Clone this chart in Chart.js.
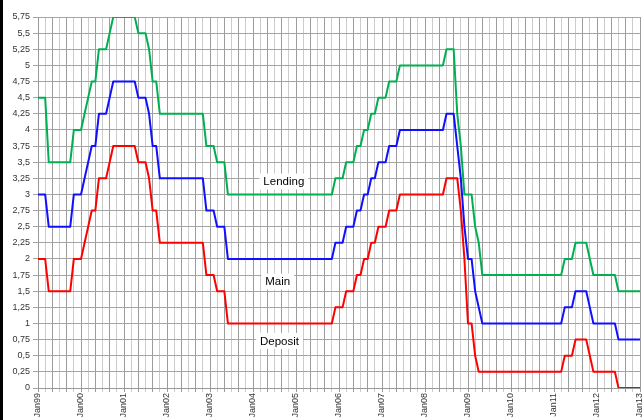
<!DOCTYPE html>
<html>
<head>
<meta charset="utf-8">
<script src="https://cdn.jsdelivr.net/npm/chart.js@4/dist/chart.umd.min.js"></script>
<style>
html,body{margin:0;padding:0;background:#fff;}
#wrap{width:644px;height:420px;}
</style>
</head>
<body>
<div id="wrap"><canvas id="c" width="644" height="420"></canvas></div>
<script>
// ---- data (monthly, Jan 1999 .. Jan 2013) ----
const monthNames = ['Jan','Feb','Mar','Apr','May','Jun','Jul','Aug','Sep','Oct','Nov','Dec'];
const tickLabels = ['Jan99','Jan00','Jan01','Jan02','Jan03','Jan04','Jan05','Jan06','Jan07','Jan08','Jan09','Jan10','Jan11','Jan12','Jan13'];
const yTickValues = [0,0.25,0.5,0.75,1,1.25,1.5,1.75,2,2.25,2.5,2.75,3,3.25,3.5,3.75,4,4.25,4.5,4.75,5,5.25,5.5,5.75];

const lending = [
  4.5,4.5,4.5,3.5,3.5,3.5,3.5,3.5,3.5,3.5,4.0,4.0,            // 1999
  4.0,4.25,4.5,4.75,4.75,5.25,5.25,5.25,5.5,5.75,5.75,5.75,   // 2000
  5.75,5.75,5.75,5.75,5.5,5.5,5.5,5.25,4.75,4.75,4.25,4.25,   // 2001
  4.25,4.25,4.25,4.25,4.25,4.25,4.25,4.25,4.25,4.25,4.25,3.75,// 2002
  3.75,3.75,3.5,3.5,3.5,3.0,3.0,3.0,3.0,3.0,3.0,3.0,          // 2003
  3.0,3.0,3.0,3.0,3.0,3.0,3.0,3.0,3.0,3.0,3.0,3.0,            // 2004
  3.0,3.0,3.0,3.0,3.0,3.0,3.0,3.0,3.0,3.0,3.0,3.25,           // 2005
  3.25,3.25,3.5,3.5,3.5,3.75,3.75,4.0,4.0,4.25,4.25,4.5,      // 2006
  4.5,4.5,4.75,4.75,4.75,5.0,5.0,5.0,5.0,5.0,5.0,5.0,         // 2007
  5.0,5.0,5.0,5.0,5.0,5.0,5.25,5.25,5.25,4.25,3.75,3.0,       // 2008
  3.0,3.0,2.5,2.25,1.75,1.75,1.75,1.75,1.75,1.75,1.75,1.75,   // 2009
  1.75,1.75,1.75,1.75,1.75,1.75,1.75,1.75,1.75,1.75,1.75,1.75,// 2010
  1.75,1.75,1.75,2.0,2.0,2.0,2.25,2.25,2.25,2.25,2.0,1.75,    // 2011
  1.75,1.75,1.75,1.75,1.75,1.75,1.5,1.5,1.5,1.5,1.5,1.5,      // 2012
  1.5                                                          // Jan 2013
];
const main = [
  3.0,3.0,3.0,2.5,2.5,2.5,2.5,2.5,2.5,2.5,3.0,3.0,
  3.0,3.25,3.5,3.75,3.75,4.25,4.25,4.25,4.5,4.75,4.75,4.75,
  4.75,4.75,4.75,4.75,4.5,4.5,4.5,4.25,3.75,3.75,3.25,3.25,
  3.25,3.25,3.25,3.25,3.25,3.25,3.25,3.25,3.25,3.25,3.25,2.75,
  2.75,2.75,2.5,2.5,2.5,2.0,2.0,2.0,2.0,2.0,2.0,2.0,
  2.0,2.0,2.0,2.0,2.0,2.0,2.0,2.0,2.0,2.0,2.0,2.0,
  2.0,2.0,2.0,2.0,2.0,2.0,2.0,2.0,2.0,2.0,2.0,2.25,
  2.25,2.25,2.5,2.5,2.5,2.75,2.75,3.0,3.0,3.25,3.25,3.5,
  3.5,3.5,3.75,3.75,3.75,4.0,4.0,4.0,4.0,4.0,4.0,4.0,
  4.0,4.0,4.0,4.0,4.0,4.0,4.25,4.25,4.25,3.75,3.25,2.5,
  2.0,2.0,1.5,1.25,1.0,1.0,1.0,1.0,1.0,1.0,1.0,1.0,
  1.0,1.0,1.0,1.0,1.0,1.0,1.0,1.0,1.0,1.0,1.0,1.0,
  1.0,1.0,1.0,1.25,1.25,1.25,1.5,1.5,1.5,1.5,1.25,1.0,
  1.0,1.0,1.0,1.0,1.0,1.0,0.75,0.75,0.75,0.75,0.75,0.75,
  0.75
];
const deposit = [
  2.0,2.0,2.0,1.5,1.5,1.5,1.5,1.5,1.5,1.5,2.0,2.0,
  2.0,2.25,2.5,2.75,2.75,3.25,3.25,3.25,3.5,3.75,3.75,3.75,
  3.75,3.75,3.75,3.75,3.5,3.5,3.5,3.25,2.75,2.75,2.25,2.25,
  2.25,2.25,2.25,2.25,2.25,2.25,2.25,2.25,2.25,2.25,2.25,1.75,
  1.75,1.75,1.5,1.5,1.5,1.0,1.0,1.0,1.0,1.0,1.0,1.0,
  1.0,1.0,1.0,1.0,1.0,1.0,1.0,1.0,1.0,1.0,1.0,1.0,
  1.0,1.0,1.0,1.0,1.0,1.0,1.0,1.0,1.0,1.0,1.0,1.25,
  1.25,1.25,1.5,1.5,1.5,1.75,1.75,2.0,2.0,2.25,2.25,2.5,
  2.5,2.5,2.75,2.75,2.75,3.0,3.0,3.0,3.0,3.0,3.0,3.0,
  3.0,3.0,3.0,3.0,3.0,3.0,3.25,3.25,3.25,3.25,2.75,2.0,
  1.0,1.0,0.5,0.25,0.25,0.25,0.25,0.25,0.25,0.25,0.25,0.25,
  0.25,0.25,0.25,0.25,0.25,0.25,0.25,0.25,0.25,0.25,0.25,0.25,
  0.25,0.25,0.25,0.5,0.5,0.5,0.75,0.75,0.75,0.75,0.5,0.25,
  0.25,0.25,0.25,0.25,0.25,0.25,0,0,0,0,0,0,
  0
];

// month categories Jan99 .. Jan13
const categories = [];
for (let y = 1999; y <= 2013; y++) {
  for (let m = 0; m < 12; m++) {
    if (y === 2013 && m > 0) break;
    categories.push(monthNames[m] + String(y).slice(2));
  }
}

// in-chart series labels
const seriesLabels = [
  {text: 'Lending', month: 68.6, value: 3.2},
  {text: 'Main',    month: 66.9, value: 1.65},
  {text: 'Deposit', month: 67.4, value: 0.73}
];

const FONT = "'Liberation Sans', Arial, sans-serif";
Chart.defaults.font.family = FONT;

const labelPlugin = {
  id: 'seriesLabels',
  afterDatasetsDraw(chart) {
    const ctx = chart.ctx, xs = chart.scales.x, ys = chart.scales.y;
    ctx.save();
    ctx.font = "11.5px " + FONT;
    ctx.textAlign = 'center';
    ctx.textBaseline = 'middle';
    seriesLabels.forEach(l => {
      const px = xs.getPixelForValue(l.month);
      const py = ys.getPixelForValue(l.value);
      const w = ctx.measureText(l.text).width + 8;
      ctx.fillStyle = '#fff';
      ctx.fillRect(px - w / 2, py - 8, w, 16);
      ctx.fillStyle = '#000';
      ctx.fillText(l.text, px, py + 0.5);
    });
    ctx.restore();
  }
};
const borderPlugin = {
  id: 'leftBar',
  afterDraw(chart) {
    const ctx = chart.ctx;
    ctx.save();
    ctx.fillStyle = '#000';
    ctx.fillRect(0, 0, 3, chart.height);
    ctx.restore();
  }
};

new Chart(document.getElementById('c'), {
  type: 'line',
  data: {
    labels: categories,
    datasets: [
      {label: 'Lending', data: lending, borderColor: '#00b050', borderWidth: 2},
      {label: 'Main', data: main, borderColor: '#1010ff', borderWidth: 2},
      {label: 'Deposit', data: deposit, borderColor: '#ff0000', borderWidth: 2}
    ]
  },
  options: {
    responsive: false,
    animation: false,
    events: [],
    layout: {padding: {left: 0, right: 4, top: 17, bottom: 0}},
    elements: {point: {radius: 0}, line: {tension: 0, borderJoinStyle: 'round'}},
    plugins: {legend: {display: false}, tooltip: {enabled: false}},
    scales: {
      x: {
        type: 'category',
        offset: false,
        border: {color: '#999', width: 1},
        grid: {
          drawOnChartArea: true,
          tickLength: 4,
          color: (c) => (c.index % 2) ? 'rgba(0,0,0,0)' : (c.index % 4 === 0 ? '#9c9c9c' : '#cccccc')
        },
        ticks: {
          autoSkip: false,
          maxRotation: 90,
          minRotation: 90,
          padding: 1,
          color: '#333',
          font: {size: 9},
          callback: (v, i) => (i % 12 === 0) ? tickLabels[i / 12] : ''
        },
        afterFit: (s) => { s.height = 32; s.paddingLeft = 0; s.paddingRight = 0; }
      },
      y: {
        min: 0,
        max: 5.75,
        border: {color: '#999', width: 1},
        grid: {color: '#a4a4a4', tickLength: 5},
        afterBuildTicks: (s) => { s.ticks = yTickValues.map(v => ({value: v})); },
        ticks: {
          padding: 3,
          color: '#333',
          font: {size: 9},
          callback: (v) => String(v).replace('.', ',')
        },
        afterFit: (s) => { s.width = 38; }
      }
    }
  },
  plugins: [labelPlugin, borderPlugin]
});
</script>
</body>
</html>
